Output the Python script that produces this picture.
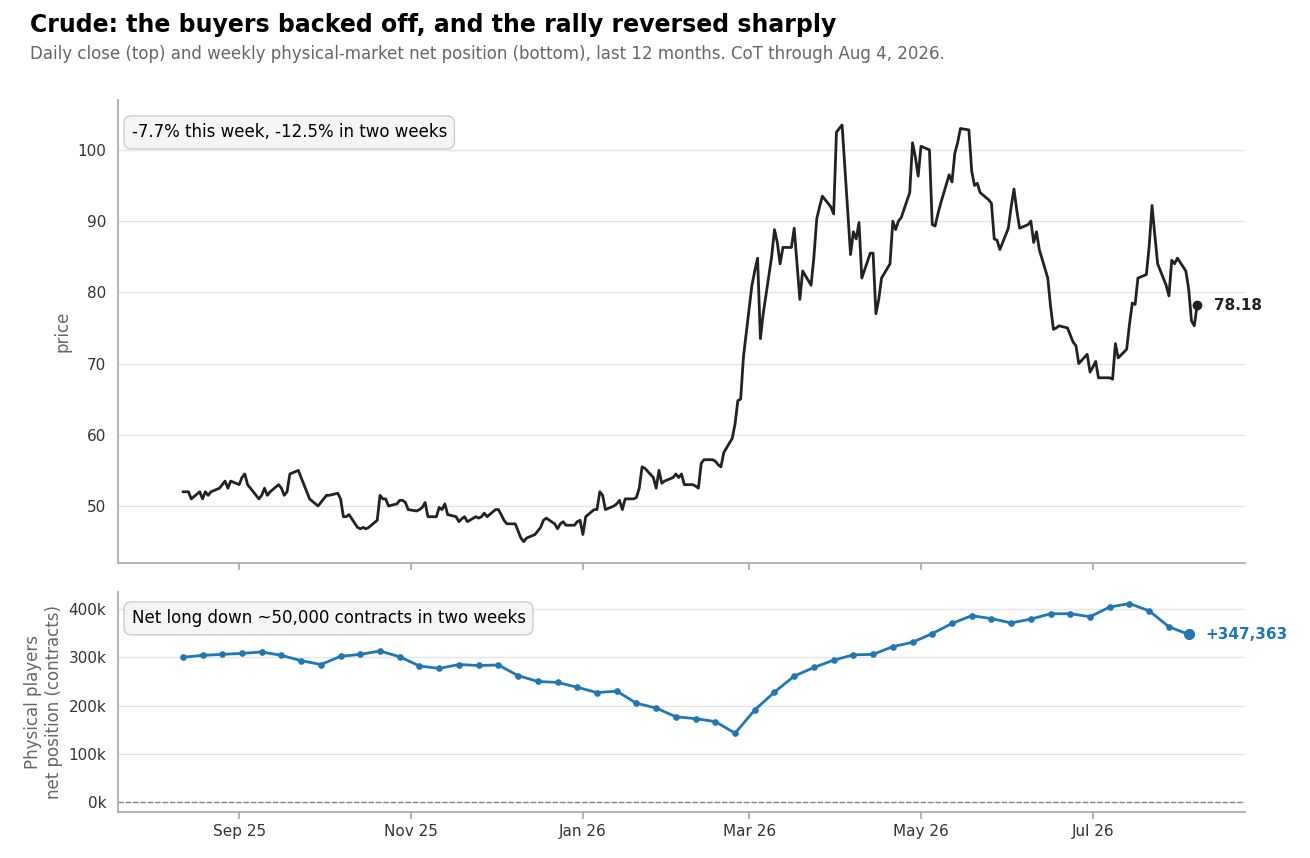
import numpy as np, pandas as pd, matplotlib
matplotlib.use("Agg")
import matplotlib.pyplot as plt, matplotlib.dates as mdates, seaborn as sns
from matplotlib.ticker import FuncFormatter

price = [52,52,52,51,52,51,52,51.5,52,52.5,53,53.5,52.5,53.5,
 53,54,54.5,53,52.5,51,51.5,52.5,51.5,52,53,52.5,51.5,52,54.5,55,54,53,52,
 51,50,50.5,51,51.5,51.5,51.8,51,48.5,48.5,48.8,47,46.8,47,46.8,47,48,51.5,51,51,50,50.3,50.8,
 50.8,50.5,49.5,49.3,49.5,49.8,50.5,48.5,48.5,49.8,49.5,50.3,48.8,48.5,47.8,48.2,48.5,47.8,48.5,48.3,
 48.5,49,48.5,49.5,49.5,48.8,48,47.5,47.5,46.5,45.5,45,45.5,46,46.5,47,48,48.3,47.5,46.8,47.5,47.8,47.3,
 47.3,47.8,48,46,48.5,49.5,49.5,52,51.5,49.5,50,50.3,50.8,49.5,51,51,51.2,52.5,55.5,55.3,54,
 52.5,55,53.2,53.5,54,54.5,54,54.5,53,53,52.8,52.5,56,56.5,56.5,56.3,55.8,55.5,57.5,59.5,
 61.5,64.8,65,71,81,83,84.8,73.5,77,85,88.8,87,84,86.3,86.3,89,84,79,83,81,85,90.3,
 92,93.5,92,91,102.5,103,103.5,85.3,88.5,87.5,89.8,82,85.5,85.5,77,79,82,84,90,88.8,90,90.5,
 94,101,99,96.3,100.5,100,89.5,89.3,91,92.5,96.5,95.5,99.5,101,103,102.8,97,95,95.3,94,93,
 92.5,87.5,87.3,86,89,92,94.5,91.5,89,89.5,90,87,88.5,86,82,78,74.8,75,75.3,75,74,73,
 72.5,70,71.3,68.8,69.5,70.3,68,68,68,67.8,72.8,70.8,72,75.5,78.5,78.3,82,82.5,86.5,92.2,88,84,
 81,79.5,84.5,84,84.8,83,80.5,76,75.3,78.18]
price_dates = pd.bdate_range(end="2026-08-07", periods=len(price))

netpos_k = [300,304,306,308,311,304,293,285,302,306,313,301,282,277,285,283,284,262,250,248,
 238,227,230,205,195,177,173,167,143,191,228,261,279,294,305,306,322,331,349,370,
 386,380,371,379,390,390,384,404,411,396,363,347.363]
cot_dates = pd.date_range(end="2026-08-04", periods=len(netpos_k), freq="7D")

sns.set_theme(style="whitegrid")
plt.rcParams['font.family'] = ['DejaVu Sans']
fig = plt.figure(figsize=(13.1, 8.58), dpi=100)
ax1 = fig.add_axes([118/1310, 1-563/858, 1127/1310, 463/858])
ax2 = fig.add_axes([118/1310, 1-812/858, 1127/1310, 220/858], sharex=ax1)

dfp = pd.DataFrame({"date": price_dates, "price": price})
dfc = pd.DataFrame({"date": cot_dates, "net": np.array(netpos_k) * 1000})
sns.lineplot(data=dfp, x="date", y="price", ax=ax1, color="#222222", lw=2)
ax1.plot(dfp.date.iloc[-1], price[-1], "o", color="#222222", ms=6)
ax1.annotate(f"{price[-1]:.2f}", (dfp.date.iloc[-1], price[-1]), xytext=(12, 0),
             textcoords="offset points", va="center", fontweight="bold", fontsize=11, color="#222222")
sns.lineplot(data=dfc, x="date", y="net", ax=ax2, color="#1f77b4", lw=2, marker="o", ms=4, mec="#1f77b4")
ax2.plot(dfc.date.iloc[-1], dfc.net.iloc[-1], "o", color="#1f77b4", ms=7)
ax2.annotate(f"+{int(round(dfc.net.iloc[-1])):,}", (dfc.date.iloc[-1], dfc.net.iloc[-1]), xytext=(12, 0),
             textcoords="offset points", va="center", fontweight="bold", fontsize=11, color="#1f77b4")
ax2.axhline(0, color="#888888", ls="--", lw=1)

for ax in (ax1, ax2):
    ax.grid(axis="x", visible=False)
    ax.grid(axis="y", color="#e5e5e5")
    for s in ("top", "right"):
        ax.spines[s].set_visible(False)
    for s in ("left", "bottom"):
        ax.spines[s].set_color("#aaaaaa")
    ax.tick_params(colors="#333333", labelsize=11, length=5, bottom=True, color="#aaaaaa")
ax1.set_ylim(42, 107)
ax1.set_yticks([50, 60, 70, 80, 90, 100])
ax2.set_ylim(-20000, 435000)
ax2.set_yticks([0, 100000, 200000, 300000, 400000])
ax2.yaxis.set_major_formatter(FuncFormatter(lambda v, p: f"{int(v/1000)}k"))
ax1.set_xlim(pd.Timestamp("2025-07-20"), pd.Timestamp("2026-08-24"))
ax2.xaxis.set_major_locator(mdates.MonthLocator(bymonth=[1, 3, 5, 7, 9, 11]))
ax2.xaxis.set_major_formatter(mdates.DateFormatter("%b %y"))
ax1.tick_params(labelbottom=False)
ax1.set_xlabel(""); ax2.set_xlabel("")
ax1.set_ylabel("price", color="#666666", fontsize=12)
ax2.set_ylabel("Physical players\nnet position (contracts)", color="#666666", fontsize=12)

box = dict(boxstyle="round,pad=0.45", fc="#f5f5f5", ec="#cccccc")
ax1.text(0.012, 0.93, "-7.7% this week, -12.5% in two weeks", transform=ax1.transAxes,
         fontsize=12, va="center", bbox=box, color="black")
ax2.text(0.012, 0.88, "Net long down ~50,000 contracts in two weeks", transform=ax2.transAxes,
         fontsize=12, va="center", bbox=box, color="black")

fig.text(30/1310, 1-25/858, "Crude: the buyers backed off, and the rally reversed sharply",
         fontsize=17, fontweight="bold", va="center", color="black")
fig.text(30/1310, 1-54/858, "Daily close (top) and weekly physical-market net position (bottom), last 12 months. CoT through Aug 4, 2026.",
         fontsize=12, color="#666666", va="center")
fig.savefig("out.png", dpi=100)
